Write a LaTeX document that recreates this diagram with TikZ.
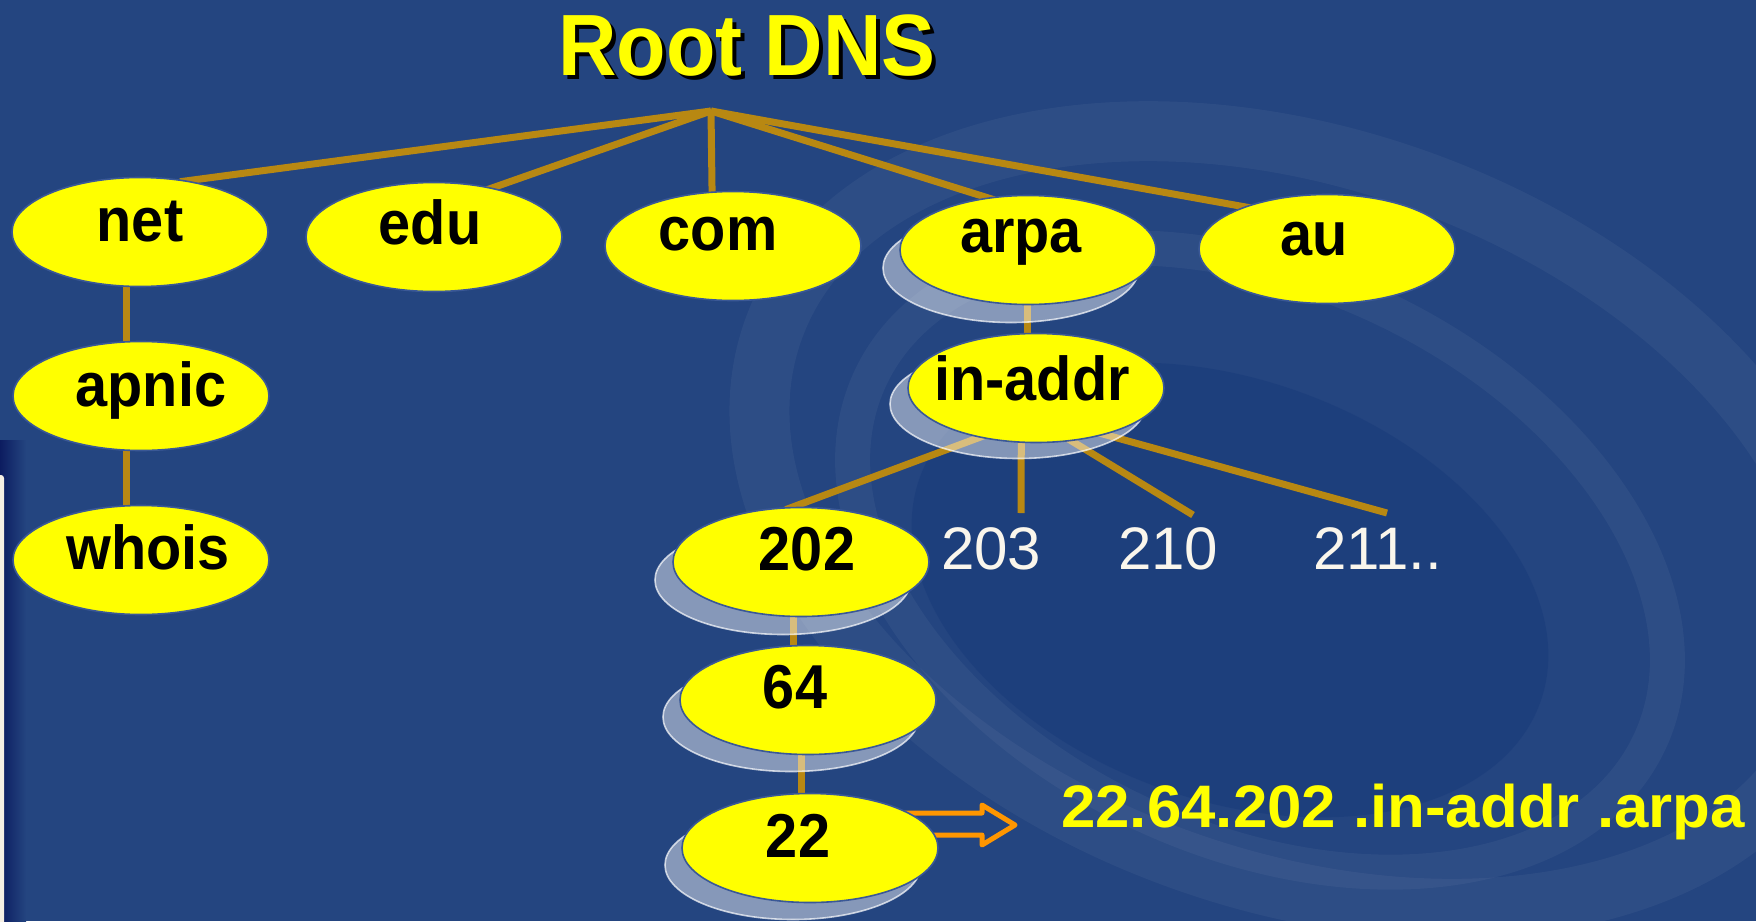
\documentclass[tikz,border=0pt]{standalone}
\usepackage{fontspec}
\setmainfont{Liberation Sans}
\newfontfamily\narrowsans{Liberation Sans}[FakeStretch=0.93]
\newfontfamily\widesans{Liberation Sans}[FakeStretch=1.03]
\usetikzlibrary{shapes.geometric}

\definecolor{slide}{RGB}{36,69,128}
\definecolor{slidedeep}{RGB}{24,58,122}
\definecolor{edgedark}{RGB}{12,28,96}
\definecolor{cream}{RGB}{246,240,228}
\definecolor{dnsyellow}{RGB}{255,255,0}
\definecolor{rim}{RGB}{58,88,150}
\definecolor{gold}{RGB}{184,136,18}
\definecolor{arrorange}{RGB}{255,150,0}
\definecolor{numwhite}{RGB}{250,246,236}

\pgfdeclarelayer{bg}
\pgfdeclarelayer{edges}
\pgfdeclarelayer{shade}
\pgfsetlayers{bg,edges,shade,main}

\tikzset{
  zone/.style={ellipse, fill=dnsyellow, draw=rim, line width=1.6pt,
    minimum width=256pt, minimum height=109pt, inner sep=0pt},
  ghost/.style={ellipse, fill=white, fill opacity=0.45, draw=white, draw opacity=0.7,
    line width=1.6pt, minimum width=256pt, minimum height=109pt, inner sep=0pt},
  zlabel/.style={anchor=base, inner sep=0pt,
    font=\narrowsans\bfseries\fontsize{62}{62}\selectfont},
  octet/.style={anchor=base west, inner sep=0pt, text=numwhite,
    font=\fontsize{60}{60}\selectfont},
  branch/.style={draw=gold, line width=7pt},
  swirl/.style={draw=white, draw opacity=0.045},
}

\begin{document}
\begin{tikzpicture}[x=1pt,y=-1pt]
\useasboundingbox (0,0) rectangle (1756,921);

% slide background with the faint ring watermark
\begin{pgfonlayer}{bg}
  \fill[slide] (0,0) rectangle (1756,921);
  \begin{scope}
    \clip (0,0) rectangle (1756,921);
    \fill[slidedeep, opacity=0.5, rotate around={-20:(1230,590)}]
      (1230,590) ellipse [x radius=330, y radius=210];
    \draw[swirl, line width=60pt, rotate around={-20:(1300,520)}]
      (1300,520) ellipse [x radius=560, y radius=360];
    \draw[swirl, line width=35pt, rotate around={-25:(1260,560)}]
      (1260,560) ellipse [x radius=430, y radius=280];
  \end{scope}
  \shade[left color=edgedark, right color=slide] (0,440) rectangle (26,921);
  \fill[cream, rounded corners=3pt] (-6,475) rectangle (4,930);
\end{pgfonlayer}

% title
\node[anchor=base, inner sep=0pt, text=black,
      font=\narrowsans\bfseries\fontsize{87}{87}\selectfont] (title-shadow) at (751,79) {Root DNS};
\node[anchor=base, inner sep=0pt, text=dnsyellow,
      font=\narrowsans\bfseries\fontsize{87}{87}\selectfont] (title) at (747,75) {Root DNS};
\coordinate (root) at (711,111);

% domain zones
\node[zone] (net)    at (140,232) {};
\node[zone] (edu)    at (434,237) {};
\node[zone] (com)    at (733,246) {};
\node[zone] (arpa)   at (1028,250) {};
\node[zone] (au)     at (1327,249) {};
\node[zone] (apnic)  at (141,396) {};
\node[zone] (whois)  at (141,560) {};
\node[zone] (inaddr) at (1036,388) {};
\node[zone] (n202)   at (801,562) {};
\node[zone] (n64)    at (808,700) {};
\node[zone] (n22)    at (810,848) {};

% zone names
\node[zlabel] (net-l)    at (140,241) {net};
\node[zlabel] (edu-l)    at (430,244) {edu};
\node[zlabel] (com-l)    at (718,250) {com};
\node[zlabel] (arpa-l)   at (1021,252) {arpa};
\node[zlabel] (au-l)     at (1314,255) {au};
\node[zlabel] (apnic-l)  at (151,406) {apnic};
\node[zlabel] (whois-l)  at (148,569) {whois};
\node[zlabel] (inaddr-l) at (1032,400) {in-addr};
\node[zlabel] (n202-l)   at (807,570) {202};
\node[zlabel] (n64-l)    at (795,708) {64};
\node[zlabel] (n22-l)    at (798,857) {22};

% sibling octets
\node[octet] (o203) at (941,569) {203};
\node[octet] (o210) at (1118,569) {210};
\node[octet] (o211) at (1313,569) {211..};
\coordinate (e203) at (1021,513);
\coordinate (e210) at (1193,515);
\coordinate (e211) at (1387,513);

% resulting reverse name
\node[anchor=base west, inner sep=0pt, text=dnsyellow,
      font=\widesans\bfseries\fontsize{60}{60}\selectfont] (ptr) at (1061,827) {22.64.202 .in-addr .arpa};

% stacked plates under the reverse-lookup zones
\begin{pgfonlayer}{shade}
  \node[ghost] (arpa-g)   at ([shift={(-17pt,-18pt)}]arpa.center) {};
  \node[ghost] (inaddr-g) at ([shift={(-18pt,-16pt)}]inaddr.center) {};
  \node[ghost] (n202-g)   at ([shift={(-18pt,-18pt)}]n202.center) {};
  \node[ghost] (n64-g)    at ([shift={(-17pt,-17pt)}]n64.center) {};
  \node[ghost] (n22-g)    at ([shift={(-17pt,-17pt)}]n22.center) {};
\end{pgfonlayer}

% tree branches
\begin{pgfonlayer}{edges}
  \draw[branch, shorten >=-8pt] (root) -- (net.47);
  \draw[branch, shorten >=-8pt] (root) -- (edu.40);
  \draw[branch, shorten >=-8pt] (root) -- (com.111);
  \draw[branch, shorten >=-8pt] (root) -- (arpa.128);
  \draw[branch, shorten >=-8pt] (root) -- (au.153);
  \draw[branch] ([xshift=-14pt]net.south) -- ([xshift=-15pt]apnic.north);
  \draw[branch] ([xshift=-15pt]apnic.south) -- ([xshift=-15pt]whois.north);
  \draw[branch] ([xshift=-1pt]arpa.south) -- ([xshift=-9pt]inaddr.north);
  \draw[branch, shorten <=-8pt, shorten >=-8pt] (inaddr.-139) -- (n202.98);
  \draw[branch, shorten <=-8pt] (inaddr.-105) -- (e203);
  \draw[branch, shorten <=-8pt] (inaddr.-56) -- (e210);
  \draw[branch, shorten <=-8pt] (inaddr.-34) -- (e211);
  \draw[branch] ([xshift=-8pt]n202.south) -- ([xshift=-15pt]n64.north);
  \draw[branch] ([xshift=-7pt]n64.south) -- ([xshift=-9pt]n22.north);
  % hollow arrow leading to the reverse name
  \draw[draw=arrorange, line width=5pt, line join=round]
    ([shift={(85pt,35pt)}]n22.center) -- (982,813) -- (982,805) -- (1015,825)
    -- (982,845) -- (982,835) -- ([shift={(85pt,13pt)}]n22.center);
\end{pgfonlayer}
\end{tikzpicture}
\end{document}
